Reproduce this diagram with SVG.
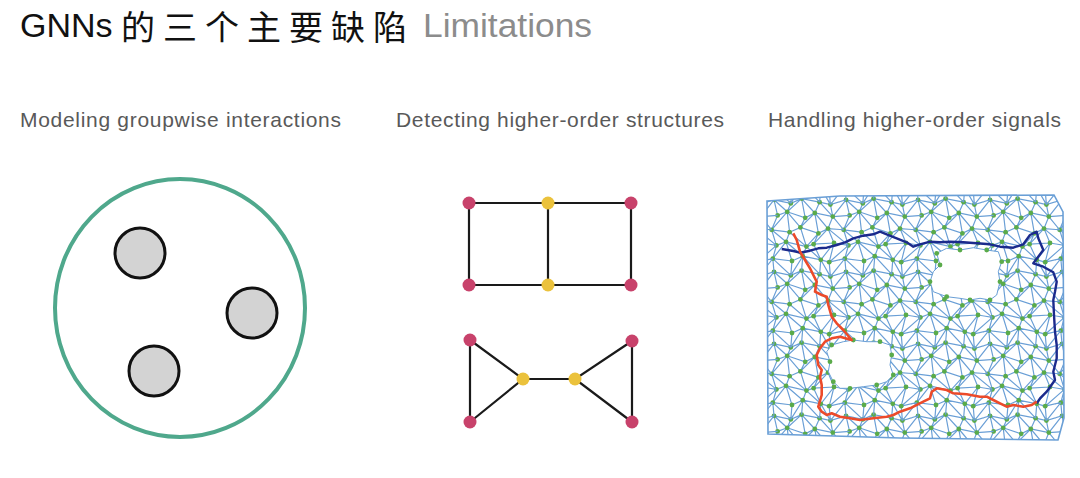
<svg xmlns="http://www.w3.org/2000/svg" xmlns:xlink="http://www.w3.org/1999/xlink" width="1080" height="478" viewBox="0 0 1080 478">
<style>
.title{font-family:"Liberation Sans","Noto Sans CJK SC",sans-serif;font-size:34px;fill:#111}
.zh{font-family:"Noto Sans CJK SC",sans-serif;font-size:34px;fill:#111}
.lim{font-family:"Liberation Sans",sans-serif;font-size:34px;fill:#8c8c8c}
.sub{font-family:"Liberation Sans",sans-serif;font-size:21px;fill:#595959}
.edge{stroke:#1a1a1a;stroke-width:2.2;fill:none}
.mag{fill:#c8426b}
.yel{fill:#ebc23c}
.ball{fill:#d3d3d3;stroke:#111;stroke-width:3}
.mline{stroke:#6a9fd6;stroke-width:1;fill:none}
.mdot{fill:#5aab4a}
</style>
<defs>
<g id="tile">
<path class="mline" d="M5,4 L19,7 L28,3 L43,6 L52,8 L65,4 M8,17 L16,14 L31,19 L39,15 L54,18 L68,17 M3,29 L18,31 L27,27 L42,32 L50,28 L63,29 M7,42 L15,39 L32,43 L38,41 L55,40 L67,42 M4,53 L20,55 L29,51 L44,54 L51,56 L64,53 M5,4 L8,17 L3,29 L7,42 L4,53 L5,64 M19,7 L16,14 L18,31 L15,39 L20,55 L19,67 M28,3 L31,19 L27,27 L32,43 L29,51 L28,63 M43,6 L39,15 L42,32 L38,41 L44,54 L43,66 M52,8 L54,18 L50,28 L55,40 L51,56 L52,68 M5,4 L16,14 M28,3 L16,14 M28,3 L39,15 M43,6 L54,18 M65,4 L54,18 M16,14 L3,29 M16,14 L27,27 M39,15 L27,27 M39,15 L50,28 M54,18 L63,29 M3,29 L15,39 M18,31 L32,43 M42,32 L32,43 M50,28 L38,41 M50,28 L67,42 M15,39 L4,53 M15,39 L29,51 M32,43 L44,54 M55,40 L44,54 M67,42 L51,56 M4,53 L19,67 M29,51 L19,67 M29,51 L43,66 M44,54 L52,68 M64,53 L52,68"/>
<g class="mdot">
<circle cx="5" cy="4" r="2"/><circle cx="19" cy="7" r="2"/><circle cx="28" cy="3" r="2"/><circle cx="43" cy="6" r="2"/><circle cx="52" cy="8" r="2"/>
<circle cx="8" cy="17" r="2"/><circle cx="16" cy="14" r="2"/><circle cx="31" cy="19" r="2"/><circle cx="39" cy="15" r="2"/><circle cx="54" cy="18" r="2"/>
<circle cx="3" cy="29" r="2"/><circle cx="18" cy="31" r="2"/><circle cx="27" cy="27" r="2"/><circle cx="42" cy="32" r="2"/><circle cx="50" cy="28" r="2"/>
<circle cx="7" cy="42" r="2"/><circle cx="15" cy="39" r="2"/><circle cx="32" cy="43" r="2"/><circle cx="38" cy="41" r="2"/><circle cx="55" cy="40" r="2"/>
<circle cx="4" cy="53" r="2"/><circle cx="20" cy="55" r="2"/><circle cx="29" cy="51" r="2"/><circle cx="44" cy="54" r="2"/><circle cx="51" cy="56" r="2"/>
</g>
</g>
<pattern id="mesh" x="0" y="0" width="60" height="60" patternUnits="userSpaceOnUse" patternTransform="translate(768 195) scale(1.2)">
<use href="#tile" x="0" y="0"/>
<use href="#tile" x="-60" y="0"/>
<use href="#tile" x="0" y="-60"/>
<use href="#tile" x="-60" y="-60"/>
</pattern>
</defs>
<rect width="1080" height="478" fill="#fff"/>

<g id="title">
<text class="title" x="20" y="37">GNNs</text>
<text class="zh" x="121" y="40" letter-spacing="8">的三个主要缺陷</text>
<text class="lim" x="423" y="37" textLength="169" lengthAdjust="spacingAndGlyphs">Limitations</text>
</g>

<g id="subtitles">
<text class="sub" x="20" y="127" textLength="321">Modeling groupwise interactions</text>
<text class="sub" x="396" y="127" textLength="328">Detecting higher-order structures</text>
<text class="sub" x="768" y="127" textLength="293">Handling higher-order signals</text>
</g>

<g id="panel-groupwise">
<g id="hyperedge"><ellipse cx="180" cy="308" rx="125" ry="129" fill="none" stroke="#4fa88c" stroke-width="4"/></g>
<g id="ball-1"><circle class="ball" cx="140" cy="253" r="25"/></g>
<g id="ball-2"><circle class="ball" cx="252" cy="313" r="25"/></g>
<g id="ball-3"><circle class="ball" cx="154" cy="371" r="25"/></g>
</g>

<g id="connectors">
<path class="edge" d="M469,203 H631 M469,285 H631 M469,203 V285 M548,203 V285 M631,203 V285"/>
<path class="edge" d="M470,340 V422 M470,340 L523,379 L470,422 M523,379 H575 M632,341 L575,379 L632,422 M632,341 V422"/>
</g>

<g id="n-a1"><circle class="mag" cx="469" cy="203" r="6.5"/></g>
<g id="n-a2"><circle class="yel" cx="548" cy="203" r="6.5"/></g>
<g id="n-a3"><circle class="mag" cx="631" cy="203" r="6.5"/></g>
<g id="n-a4"><circle class="mag" cx="469" cy="285" r="6.5"/></g>
<g id="n-a5"><circle class="yel" cx="548" cy="285" r="6.5"/></g>
<g id="n-a6"><circle class="mag" cx="631" cy="285" r="6.5"/></g>
<g id="n-b1"><circle class="mag" cx="470" cy="340" r="6.5"/></g>
<g id="n-b2"><circle class="mag" cx="470" cy="422" r="6.5"/></g>
<g id="n-b3"><circle class="yel" cx="523" cy="379" r="6.5"/></g>
<g id="n-b4"><circle class="yel" cx="575" cy="379" r="6.5"/></g>
<g id="n-b5"><circle class="mag" cx="632" cy="341" r="6.5"/></g>
<g id="n-b6"><circle class="mag" cx="632" cy="422" r="6.5"/></g>

<g id="panel-signals">
<polygon points="767,201 840,196 1054,195 1063,212 1064,418 1058,440 900,438 768,434" fill="url(#mesh)" stroke="#6a9fd6" stroke-width="1.6"/>
<polygon points="936.7,253.3 946.7,248.3 960,250 973.3,247.7 986.7,250 998.3,251.7 1001.7,261.7 998.3,271.7 1000,281.7 996.7,295 990,300 980,298.3 970,300 960,298.3 946.7,296.7 933.3,291.7 930,281.7 933.3,271.7 940,265" fill="#fff" stroke="#6a9fd6" stroke-width="1"/>
<polygon points="853.3,340 866.7,341.7 880,341.7 890,345 891.7,355 890,365 893.3,375 886.7,381.7 876.7,385 863.3,386.7 850,388.3 840,388.3 833.3,381.7 828.3,371.7 830,361.7 826.7,351.7 831.7,345 843.3,341.7" fill="#fff" stroke="#6a9fd6" stroke-width="1"/>
<g class="mdot">
<circle cx="936.7" cy="253.3" r="2.4"/><circle cx="960" cy="250" r="2.4"/><circle cx="986.7" cy="250" r="2.4"/><circle cx="1001.7" cy="261.7" r="2.4"/><circle cx="1000" cy="281.7" r="2.4"/><circle cx="990" cy="300" r="2.4"/><circle cx="970" cy="300" r="2.4"/><circle cx="946.7" cy="296.7" r="2.4"/><circle cx="930" cy="281.7" r="2.4"/><circle cx="940" cy="265" r="2.4"/>
<circle cx="853.3" cy="340" r="2.4"/><circle cx="880" cy="341.7" r="2.4"/><circle cx="891.7" cy="355" r="2.4"/><circle cx="893.3" cy="375" r="2.4"/><circle cx="876.7" cy="385" r="2.4"/><circle cx="850" cy="388.3" r="2.4"/><circle cx="833.3" cy="381.7" r="2.4"/><circle cx="830" cy="361.7" r="2.4"/><circle cx="831.7" cy="345" r="2.4"/>
</g>
<polyline fill="none" stroke="#1b2a8c" stroke-width="2.4" stroke-linejoin="round" points="781.7,249 793.3,251 800,252.7 810,250.7 818.3,248.3 826.7,247.7 836.7,245 845,242.3 853.3,238.3 863.3,235.7 873.3,234.3 880,231.7 886.7,234.3 896.7,238.3 906.7,242.3 913.3,246.7 920,244.3 930,241.7 940,242.3 950,241.7 963.3,242.3 976.7,243.3 990,244.3 1000,246.7 1013.3,247.7 1023.3,244.3 1030,235 1036.7,231.7 1038.3,238.3 1043.3,250 1033.3,263.3 1043.3,266.7 1053.3,272.3 1056.7,281.7 1055,291.7 1053.3,300 1054,315 1055,331.7 1056.7,345 1056.7,358.3 1053.3,371.7 1055,380 1046.7,391.7 1040,398.3 1036.7,403.3"/>
<polyline fill="none" stroke="#ec4a2a" stroke-width="2.6" stroke-linejoin="round" points="793.3,233.3 796.7,240 800,251.7 805,260 810,268.3 813.3,275 816.7,281.7 815,291.7 821.7,295 826.7,296.7 828.3,305 831.7,316.7 836.7,323.3 843.3,330 851.7,340 840,336.7 831.7,338.3 825,341.7 820,348.3 816.7,355 818.3,365 821.7,370 820,376.7 821.7,385 821.7,395 818.3,406.7 821.7,411.7 826.7,415 831.7,413.3 840,416.7 850,418.3 860,420 873.3,418.3 886.7,416.7 893.3,415 900,411.7 910,408.3 923.3,401.7 930,398.3 931.7,391.7 936.7,388.3 946.7,390 953.3,393.3 966.7,394.3 980,396.7 986.7,396.7 993.3,400 1000,403.3 1006.7,406.7 1013.3,405 1023.3,406.7 1031.7,405 1036.7,401.7"/>
</g>
</svg>
